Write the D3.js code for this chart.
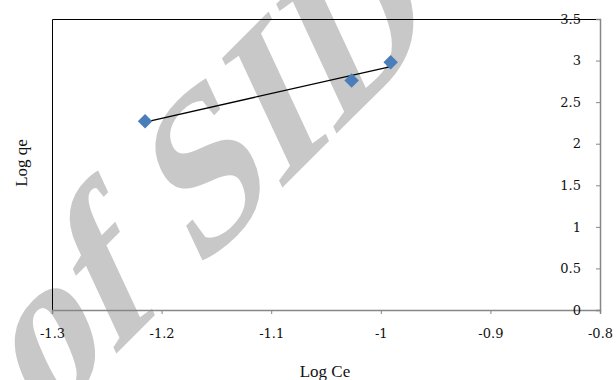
<!DOCTYPE html>
<html>
<head>
<meta charset="utf-8">
<script src="https://cdn.jsdelivr.net/npm/d3@7"></script>
<style>
  body { margin: 0; background: #fff; }
  svg { display: block; }
</style>
</head>
<body>
<figure id="scatter" style="margin:0"></figure>
<script>
// Log Ce vs Log qe (Freundlich fit)
const logCe = [-1.2151, -1.0266, -0.991];
const logQe = [2.27, 2.76, 2.98];
const xTicks = [-1.3, -1.2, -1.1, -1, -0.9, -0.8];
const yTicks = [0, 0.5, 1, 1.5, 2, 2.5, 3, 3.5];

const width = 616;
const height = 380;
const plot = { left: 52, right: 600, top: 19, bottom: 310 };
const labelFont = "'DejaVu Serif', serif";
const titleFont = "'Liberation Serif', serif";

const svg = d3.select("figure#scatter")
  .append("svg")
  .attr("width", width)
  .attr("height", height);

const x = d3.scaleLinear().domain([-1.3, -0.8]).range([plot.left, plot.right]);
const y = d3.scaleLinear().domain([0, 3.5]).range([plot.bottom, plot.top]);

// watermark, sits under everything else
svg.append("g")
  .attr("transform", "translate(40,430) rotate(-45) skewX(-20)")
  .append("text")
  .text("of SID")
  .attr("font-family", "'Liberation Serif'")
  .attr("font-weight", "bold")
  .attr("font-size", 205)
  .attr("fill", "#c8c8c8");

// plot area frame (top + left black)
svg.append("path")
  .attr("d", `M${plot.left + 0.5},${plot.bottom}V${plot.top + 0.5}H${plot.right}`)
  .attr("fill", "none")
  .attr("stroke", "#000")
  .attr("stroke-width", 1);

// x axis along the bottom
const xAxis = svg.append("g")
  .attr("transform", `translate(0,${plot.bottom})`)
  .call(d3.axisBottom(x).tickValues(xTicks).tickSize(4).tickPadding(15)
    .tickFormat(d => String(d)));
xAxis.select(".domain").attr("stroke", "#868686").attr("stroke-width", 1.5);
xAxis.selectAll(".tick line").attr("stroke", "#868686");
xAxis.selectAll("text")
  .attr("font-family", labelFont)
  .attr("font-size", 13)
  .attr("fill", "#111");

// y axis on the right, labels inside
const yAxis = svg.append("g")
  .attr("transform", `translate(${plot.right},0)`)
  .call(d3.axisLeft(y).tickValues(yTicks).tickSize(4).tickPadding(15)
    .tickFormat(d => String(d)));
yAxis.select(".domain").attr("stroke", "#868686").attr("stroke-width", 1.5);
yAxis.selectAll(".tick line").attr("stroke", "#868686");
yAxis.selectAll("text")
  .attr("font-family", labelFont)
  .attr("font-size", 13)
  .attr("fill", "#111");

// linear trendline (least squares)
const mx = d3.mean(logCe), my = d3.mean(logQe);
const slope = d3.sum(logCe, (v, i) => (v - mx) * (logQe[i] - my)) /
  d3.sum(logCe, v => (v - mx) * (v - mx));
const icpt = my - slope * mx;
const xs = d3.extent(logCe);

svg.append("line")
  .attr("x1", x(xs[0])).attr("y1", y(slope * xs[0] + icpt))
  .attr("x2", x(xs[1])).attr("y2", y(slope * xs[1] + icpt))
  .attr("stroke", "#000")
  .attr("stroke-width", 1.3);

// diamond markers
const diamond = d3.symbol().type(d3.symbolSquare).size(105);
svg.selectAll("path.pt")
  .data(logCe)
  .enter()
  .append("path")
  .attr("class", "pt")
  .attr("d", diamond)
  .attr("transform", (d, i) => `translate(${x(d)},${y(logQe[i])}) rotate(45)`)
  .attr("fill", "#4a7ebb");

// axis titles
svg.append("text")
  .text("Log Ce")
  .attr("x", 325).attr("y", 377)
  .attr("text-anchor", "middle")
  .attr("font-family", titleFont)
  .attr("font-size", 17)
  .attr("fill", "#111");

svg.append("text")
  .text("Log qe")
  .attr("transform", "translate(27,163) rotate(-90)")
  .attr("text-anchor", "middle")
  .attr("font-family", titleFont)
  .attr("font-size", 17)
  .attr("fill", "#111");
</script>
</body>
</html>
